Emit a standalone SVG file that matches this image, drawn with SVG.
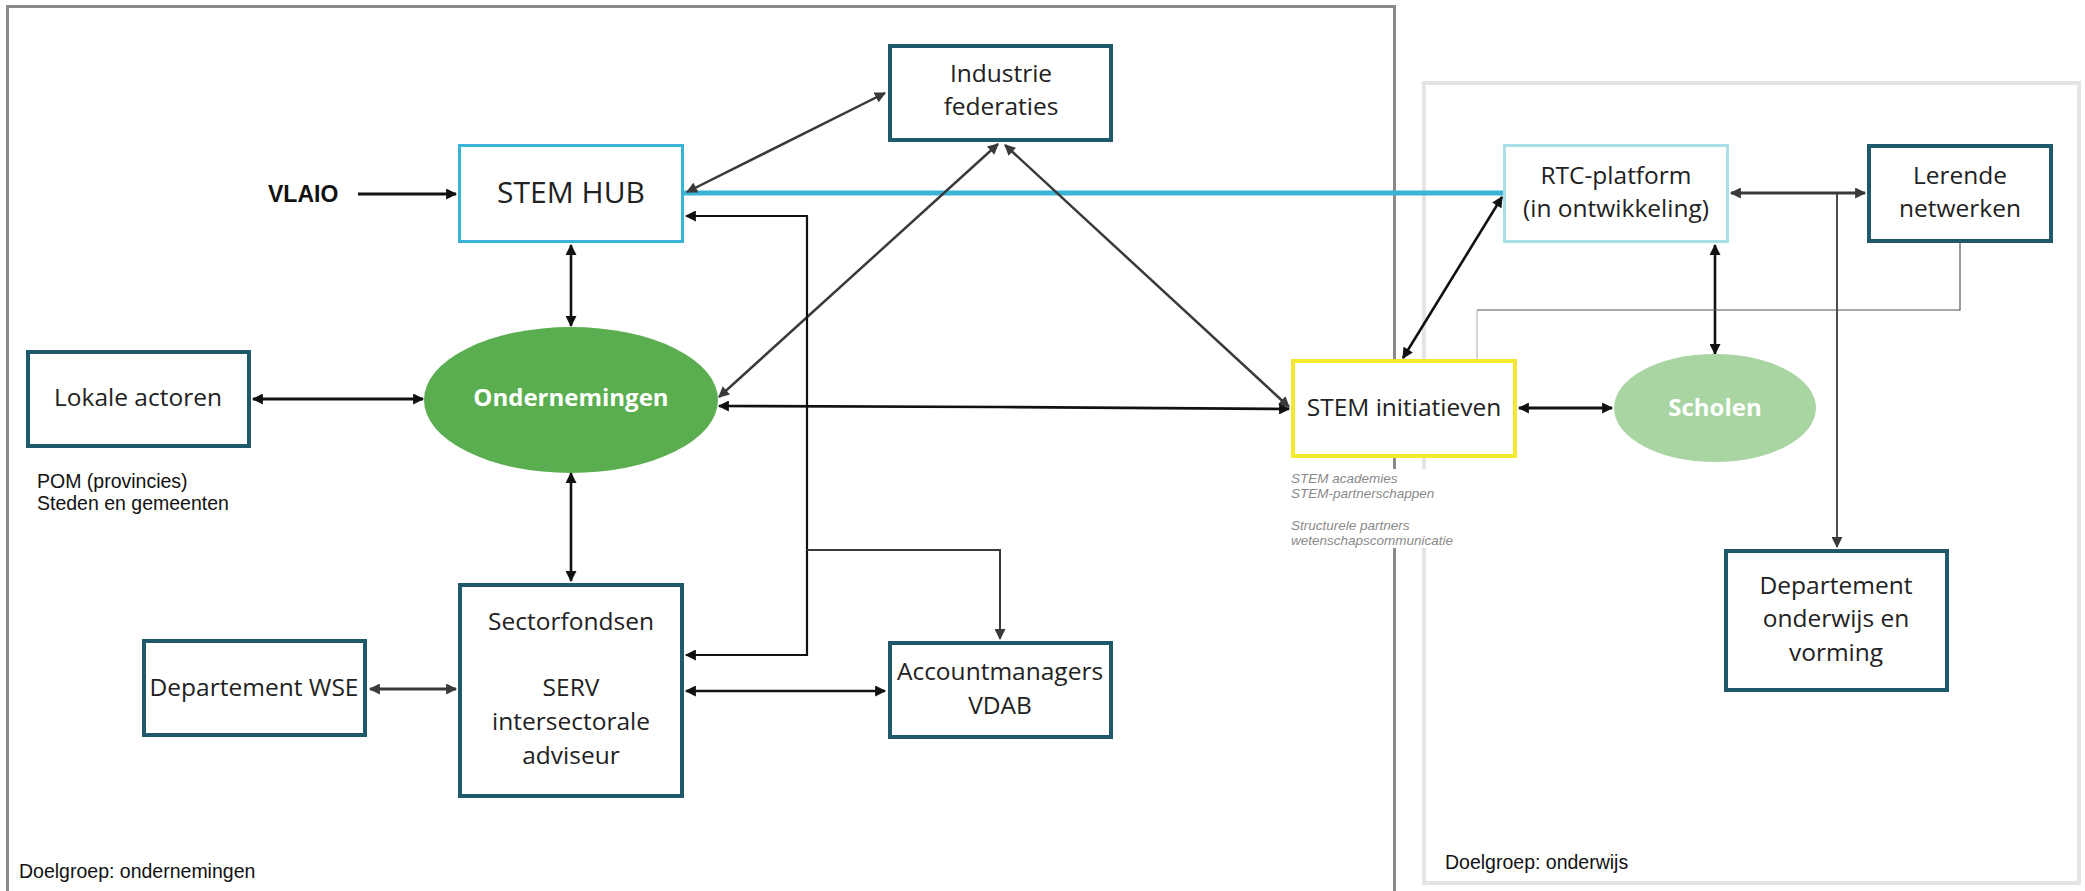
<svg xmlns="http://www.w3.org/2000/svg" width="2085" height="891" viewBox="0 0 2085 891">
<defs>
<style>
.box{fill:#fff;stroke:#1e5a6c;stroke-width:4}
.t{font-family:"Open Sans","Liberation Sans",sans-serif;font-size:24.5px;fill:#222;text-anchor:middle}
.tw{font-family:"Open Sans","Liberation Sans",sans-serif;font-size:24px;font-weight:bold;fill:#fff;text-anchor:middle}
.s{font-family:"Liberation Sans",Arial,sans-serif;font-size:19.5px;fill:#111}
.lab{font-family:"Liberation Sans",Arial,sans-serif;font-size:13.5px;font-style:italic;fill:#8a8a8a}
.cb{fill:none;stroke:#111;stroke-width:2.6}
.cg{fill:none;stroke:#3a3a3a;stroke-width:2.5}
</style>
<marker id="ab" viewBox="0 0 10 10" refX="9" refY="5" markerWidth="12" markerHeight="11" markerUnits="userSpaceOnUse" orient="auto-start-reverse"><path d="M0,0 L10,5 L0,10 z" fill="#111"/></marker>
<marker id="ag" viewBox="0 0 10 10" refX="9" refY="5" markerWidth="12" markerHeight="11" markerUnits="userSpaceOnUse" orient="auto-start-reverse"><path d="M0,0 L10,5 L0,10 z" fill="#3a3a3a"/></marker>
</defs>
<rect width="2085" height="891" fill="#fff"/>
<g id="containers">
<rect x="7.5" y="6.5" width="1387" height="900" fill="none" stroke="#8a8a8a" stroke-width="3"/>
<rect x="1424" y="83" width="655" height="800" fill="none" stroke="#e4e4e4" stroke-width="4"/>
<text class="s" x="19" y="878">Doelgroep: ondernemingen</text>
<text class="s" x="1445" y="869">Doelgroep: onderwijs</text>
</g>
<g id="connectors">
<line x1="684" y1="193" x2="1503" y2="193" stroke="#3ab4d6" stroke-width="5"/>
<line class="cb" x1="358" y1="194" x2="456" y2="194" style="stroke-width:3" marker-end="url(#ab)"/>
<line class="cg" x1="687" y1="192" x2="885" y2="93" marker-start="url(#ag)" marker-end="url(#ag)"/>
<line class="cb" x1="571" y1="245" x2="571" y2="326" marker-start="url(#ab)" marker-end="url(#ab)"/>
<line class="cb" x1="253" y1="399" x2="423" y2="399" style="stroke-width:3.2" marker-start="url(#ab)" marker-end="url(#ab)"/>
<line class="cg" x1="998" y1="144" x2="719" y2="397" marker-start="url(#ag)" marker-end="url(#ag)"/>
<line class="cg" x1="1005" y1="145" x2="1289" y2="407" marker-start="url(#ag)" marker-end="url(#ag)"/>
<path class="cb" d="M719,406 L1000,407 L1289,409" marker-start="url(#ab)" marker-end="url(#ab)"/>
<line class="cb" x1="571" y1="473" x2="571" y2="581" marker-start="url(#ab)" marker-end="url(#ab)"/>
<path class="cb" d="M686,216 H807 V655 H686" style="stroke-width:2.2" marker-start="url(#ab)" marker-end="url(#ab)"/>
<path class="cg" d="M807,550 H1000 V639" style="stroke-width:2" marker-end="url(#ag)"/>
<line class="cg" x1="370" y1="689" x2="456" y2="689" style="stroke-width:3.2" marker-start="url(#ag)" marker-end="url(#ag)"/>
<line class="cb" x1="686" y1="691" x2="885" y2="691" marker-start="url(#ab)" marker-end="url(#ab)"/>
<line class="cb" x1="1403" y1="358" x2="1502" y2="197" marker-start="url(#ab)" marker-end="url(#ab)"/>
<line class="cg" x1="1731" y1="193" x2="1865" y2="193" style="stroke-width:3" marker-start="url(#ag)" marker-end="url(#ag)"/>
<line class="cg" x1="1837" y1="193" x2="1837" y2="547" style="stroke-width:1.8" marker-end="url(#ag)"/>
<line class="cb" x1="1715" y1="245" x2="1715" y2="354" marker-start="url(#ab)" marker-end="url(#ab)"/>
<line class="cb" x1="1519" y1="408" x2="1612" y2="408" style="stroke-width:3.2" marker-start="url(#ab)" marker-end="url(#ab)"/>
<path d="M1960,243 V310 H1477" fill="none" stroke="#555" stroke-width="1.2"/>
<path d="M1477,310 V359" fill="none" stroke="#bbb" stroke-width="1.2"/>
</g>
<g id="vlaio"><text x="268" y="202" font-family="Liberation Sans,Arial,sans-serif" font-size="23" font-weight="bold" fill="#111">VLAIO</text></g>
<g id="stemhub"><rect x="459.5" y="145.5" width="223" height="96" fill="#fff" stroke="#3ab4d6" stroke-width="3"/><text class="t" x="571" y="203" style="font-size:30px">STEM HUB</text></g>
<g id="industrie"><rect class="box" x="890" y="46" width="221" height="94"/><text class="t" x="1001" y="82">Industrie</text><text class="t" x="1001" y="115">federaties</text></g>
<g id="ondernemingen"><ellipse cx="571" cy="400" rx="147" ry="73" fill="#5aae50"/><text class="tw" x="571" y="406">Ondernemingen</text></g>
<g id="lokale"><rect class="box" x="28" y="352" width="221" height="94"/><text class="t" x="138" y="406">Lokale actoren</text></g>
<g id="pom"><text class="s" x="37" y="488">POM (provincies)</text><text class="s" x="37" y="510">Steden en gemeenten</text></g>
<g id="sectorfondsen"><rect class="box" x="460" y="585" width="222" height="211"/><text class="t" x="571" y="630">Sectorfondsen</text><text class="t" x="571" y="696">SERV</text><text class="t" x="571" y="730">intersectorale</text><text class="t" x="571" y="764">adviseur</text></g>
<g id="wse"><rect class="box" x="144" y="641" width="221" height="94"/><text class="t" x="254" y="696">Departement WSE</text></g>
<g id="account"><rect class="box" x="890" y="643" width="221" height="94"/><text class="t" x="1000" y="680">Accountmanagers</text><text class="t" x="1000" y="714">VDAB</text></g>
<g id="rtc"><rect x="1504.5" y="145.5" width="223" height="96" fill="#fff" stroke="#aadfe8" stroke-width="3"/><text class="t" x="1616" y="184">RTC-platform</text><text class="t" x="1616" y="217">(in ontwikkeling)</text></g>
<g id="lerende"><rect class="box" x="1869" y="146" width="182" height="95"/><text class="t" x="1960" y="184">Lerende</text><text class="t" x="1960" y="217">netwerken</text></g>
<g id="steminit"><rect x="1293" y="361" width="222" height="95" fill="#fff" stroke="#f3ea2e" stroke-width="4"/><text class="t" x="1404" y="416">STEM initiatieven</text></g>
<g id="steminit-label"><rect x="1289" y="469" width="168" height="79" fill="#fff"/><text class="lab" x="1291" y="483">STEM academies</text><text class="lab" x="1291" y="498">STEM-partnerschappen</text><text class="lab" x="1291" y="530">Structurele partners</text><text class="lab" x="1291" y="545">wetenschapscommunicatie</text></g>
<g id="scholen"><ellipse cx="1715" cy="408" rx="101" ry="54" fill="#a8d5a1"/><text class="tw" x="1715" y="416">Scholen</text></g>
<g id="dept-onderwijs"><rect class="box" x="1726" y="551" width="221" height="139"/><text class="t" x="1836" y="594">Departement</text><text class="t" x="1836" y="627">onderwijs en</text><text class="t" x="1836" y="661">vorming</text></g>
</svg>
